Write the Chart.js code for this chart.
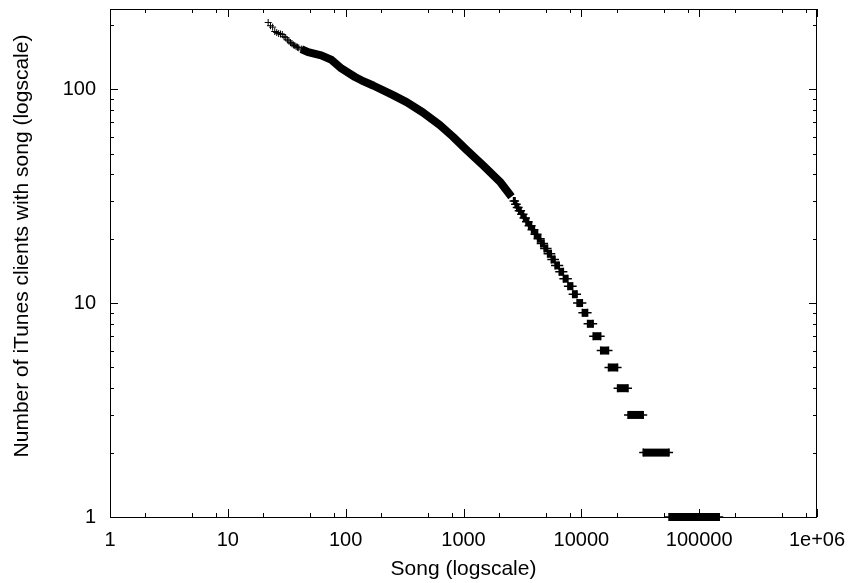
<!DOCTYPE html>
<html>
<head>
<meta charset="utf-8">
<script src="https://cdn.jsdelivr.net/npm/chart.js@4.4.0/dist/chart.umd.min.js"></script>
<style>
html,body{margin:0;padding:0;background:#fff;}
</style>
</head>
<body>
<canvas id="songChart" width="852" height="583"></canvas>
<script>
// top of the curve: a few single ranks, still seen as separate crosses
let topRanks = [22,23,24,25,26,27,28,29,30,31,32,33,34,35,36,37,38,39,40,42,44,46];
let topCounts = [205,198,195,186,184,182,181,180,176,174,170,168,165,163,161,160,158,157,156,154,152,150];

// middle of the curve, crosses merge into one thick band
let curveRanks = [42,48,62,76,92,120,136,171,250,329,450,629,812,1060,1467,2033,2553];
let curveCounts = [154,149,144,137,125,114,110,104,94,87,78,68,60,52,44,37,31.4];

// low counts: all songs with the same count sit on one row (first..last rank)
let stepCounts = [1,2,3,4,5,6,7,8,9,10,11,12,13,14,15,16,17,18,19,20,21,22,23,24,25,26,27,28,29,30];
let stepFirst = [55501,33501,24901,20301,17001,14601,12601,11301,10201,9201,8441,7691,7041,6491,5981,5561,5171,4831,4521,4251,4001,3781,3571,3391,3231,3081,2941,2831,2741,2660];
let stepLast = [148000,55500,33500,24900,20300,17000,14600,12600,11300,10200,9200,8440,7690,7040,6490,5980,5560,5170,4830,4520,4250,4000,3780,3570,3390,3230,3080,2940,2830,2740];

let xTicks = [1,10,100,1000,10000,100000,1000000];
let xLabels = ['1','10','100','1000','10000','100000','1e+06'];
let xMinor = [2,5,8];
let yTicks = [1,10,100];
let yLabels = ['1','10','100'];
let yMinor = [2,3,4,5,6,7,8,9];
let yTitle = 'Number of iTunes clients with song (logscale)';

let fontFam = '"Liberation Sans", Arial, Helvetica, sans-serif';
let tickSize = 20;
let titleSize = 21;

let datasets = [];
datasets.push({
    data: topRanks.map((r,i) => ({x:r, y:topCounts[i]})),
    showLine: false,
    pointStyle: 'cross',
    pointRadius: 3.5,
    pointBorderWidth: 1,
    pointBorderColor: '#000',
    borderColor: '#000'
});
datasets.push({
    data: curveRanks.map((r,i) => ({x:r, y:curveCounts[i]})),
    showLine: true,
    borderColor: '#000',
    borderWidth: 8,
    borderCapStyle: 'butt',
    borderJoinStyle: 'round',
    pointRadius: 0
});
for (let i = 0; i < stepCounts.length; i++) {
    datasets.push({
        data: [{x:stepFirst[i], y:stepCounts[i]}, {x:stepLast[i], y:stepCounts[i]}],
        showLine: true,
        borderColor: '#000',
        borderWidth: 8,
        borderCapStyle: 'butt',
        pointStyle: 'cross',
        pointRadius: 4,
        pointBorderWidth: 1.5,
        pointBorderColor: '#000',
        clip: false
    });
}

// gnuplot style frame with inward ticks on all four sides
let frameTicks = {
    id: 'frameTicks',
    beforeDatasetsDraw(chart) {
        let ctx = chart.ctx;
        let a = chart.chartArea;
        let sx = chart.scales.x, sy = chart.scales.y;
        ctx.save();
        ctx.strokeStyle = '#000';
        ctx.lineWidth = 1;
        ctx.beginPath();
        for (let d = 1; d <= 1000000; d *= 10) {
            let vals = [{v:d, len:8}];
            if (d < 1000000) xMinor.forEach(m => vals.push({v:d*m, len:4}));
            vals.forEach(t => {
                let px = Math.round(sx.getPixelForValue(t.v)) + 0.5;
                ctx.moveTo(px, a.bottom); ctx.lineTo(px, a.bottom - t.len);
                ctx.moveTo(px, a.top); ctx.lineTo(px, a.top + t.len);
            });
        }
        for (let d = 1; d <= 100; d *= 10) {
            let vals = [{v:d, len:8}];
            yMinor.forEach(m => { if (d*m <= sy.max) vals.push({v:d*m, len:4}); });
            vals.forEach(t => {
                let py = Math.round(sy.getPixelForValue(t.v)) + 0.5;
                ctx.moveTo(a.left, py); ctx.lineTo(a.left + t.len, py);
                ctx.moveTo(a.right, py); ctx.lineTo(a.right - t.len, py);
            });
        }
        ctx.stroke();
        ctx.strokeRect(Math.round(a.left) + 0.5, Math.round(a.top) + 0.5,
            Math.round(a.right - a.left) - 1, Math.round(a.bottom - a.top));
        ctx.restore();
    },
    // y label sits a bit above the middle of the plot, as gnuplot put it
    afterDraw(chart) {
        let ctx = chart.ctx;
        ctx.save();
        ctx.translate(22, 246);
        ctx.rotate(-Math.PI / 2);
        ctx.fillStyle = '#000';
        ctx.font = titleSize + 'px ' + fontFam;
        ctx.textAlign = 'center';
        ctx.textBaseline = 'middle';
        ctx.fillText(yTitle, 0, 0);
        ctx.restore();
    }
};

let songChart = new Chart(document.getElementById('songChart').getContext('2d'), {
    type: 'scatter',
    data: { datasets: datasets },
    options: {
        responsive: false,
        animation: false,
        layout: { padding: { top: 9, right: 35, left: 0, bottom: 0 } },
        plugins: { legend: { display: false }, tooltip: { enabled: false } },
        scales: {
            x: {
                type: 'logarithmic',
                min: 1,
                max: 1000000,
                grid: { display: false, drawTicks: false },
                border: { display: false },
                afterBuildTicks: s => { s.ticks = xTicks.map(v => ({value: v})); },
                afterFit: s => { s.height = 66; s.paddingLeft = 0; s.paddingRight = 0; },
                ticks: {
                    color: '#000',
                    font: { family: fontFam, size: tickSize },
                    padding: 11,
                    maxRotation: 0,
                    autoSkip: false,
                    callback: (v, i) => xLabels[i]
                },
                title: {
                    display: true,
                    text: 'Song (logscale)',
                    color: '#000',
                    font: { family: fontFam, size: titleSize },
                    padding: { top: 0, bottom: 1 }
                }
            },
            y: {
                type: 'logarithmic',
                min: 1,
                max: 237,
                grid: { display: false, drawTicks: false },
                border: { display: false },
                afterBuildTicks: s => { s.ticks = yTicks.map(v => ({value: v})); },
                afterFit: s => { s.width = 110; s.paddingTop = 0; s.paddingBottom = 0; },
                ticks: {
                    color: '#000',
                    font: { family: fontFam, size: tickSize },
                    padding: 14,
                    autoSkip: false,
                    callback: (v, i) => yLabels[i]
                }
            }
        }
    },
    plugins: [frameTicks]
});
</script>
</body>
</html>
